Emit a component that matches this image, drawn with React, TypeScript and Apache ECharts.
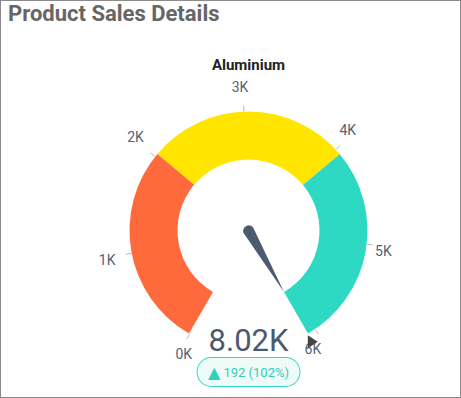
import React, { useEffect, useRef } from "react";
import * as echarts from "echarts";

const chartTitle = "Product Sales Details";
const gaugeName = "Aluminium";
const scaleMin = 0;
const scaleMax = 6000;
const bandStops = [2000, 4000, 6000];
const bandColors = ["#ff6a3d", "#ffe500", "#2ed9c3"];
const actualValue = 8020;
const targetValue = 7828;

const fmtK = (v: number) => `${+(v / 1000).toFixed(2)}K`;

export default function App() {
  const ref = useRef<HTMLDivElement>(null);
  useEffect(() => {
    if (!ref.current) return;
    const chart = echarts.init(ref.current, null, { renderer: "svg" });
    const center = [247.5, 229.5];
    const radius = 119;
    const common = {
      type: "gauge",
      center,
      radius,
      startAngle: 240,
      endAngle: -60,
      min: scaleMin,
      max: scaleMax,
      splitNumber: 6,
    };
    const hidden = {
      axisLine: { show: false, lineStyle: { width: 48 } },
      axisTick: { show: false },
      splitLine: { show: false, distance: -54, length: 6 },
      axisLabel: { show: false },
      pointer: { show: false },
      anchor: { show: false },
      title: { show: false },
      detail: { show: false },
    };
    const change = actualValue - targetValue;
    const pct = Math.round((actualValue / targetValue) * 100);
    const labelColor = "#566274";
    chart.setOption({
      animation: false,
      title: {
        text: chartTitle,
        left: 7,
        top: 1,
        padding: 0,
        textStyle: {
          fontFamily: "Roboto",
          fontSize: 22,
          fontWeight: "bold",
          color: "#666666",
        },
      },
      series: [
        {
          ...common,
          ...hidden,
          axisLine: {
            lineStyle: {
              width: 48,
              color: bandStops.map((s, i) => [
                (s - scaleMin) / (scaleMax - scaleMin),
                bandColors[i],
              ]),
            },
          },
          pointer: {
            show: true,
            icon: "path://M5 0 L10 71 A5 5 0 0 1 0 71 Z",
            width: 11,
            length: 76,
            offsetCenter: [0, 5],
            itemStyle: { color: "#4d5b70" },
          },
          title: {
            show: true,
            offsetCenter: [0, -165.5],
            fontFamily: "Roboto",
            fontSize: 15,
            fontWeight: "bold",
            color: "#222222",
          },
          detail: {
            show: true,
            offsetCenter: [0, 109.5],
            fontFamily: "Roboto",
            fontSize: 31,
            fontWeight: "normal",
            color: "#4b5a6e",
            formatter: (v: number) => fmtK(v),
          },
          data: [{ value: actualValue, name: gaugeName }],
        },
        {
          ...common,
          ...hidden,
          startAngle: 240.4,
          endAngle: -56,
          splitLine: {
            show: true,
            distance: -54,
            length: 6,
            lineStyle: { color: "#bbbbbb", width: 1 },
          },
          data: [{ value: scaleMin, name: "ticks" }],
        },
        {
          ...common,
          ...hidden,
          center: [243.5, 227.5],
          startAngle: 242.4,
          endAngle: -59,
          axisLabel: {
            show: true,
            distance: 18,
            color: labelColor,
            fontFamily: "Roboto",
            fontSize: 14,
            align: "center",
            verticalAlign: "middle",
            formatter: (val: any) => `${Math.round(Number(val) / 1000)}K`,
          },
          data: [{ value: scaleMin, name: "labels" }],
        },
        {
          ...common,
          ...hidden,
          pointer: {
            show: true,
            icon: "path://M0 0.63 L5.41 11.26 L11.91 0 Z",
            width: 11.91,
            length: 11.26,
            offsetCenter: [1.6, -120.4],
            itemStyle: { color: "#444444" },
          },
          detail: {
            show: true,
            offsetCenter: [0, 141.5],
            backgroundColor: "#effbf8",
            borderColor: "#2ed9c3",
            borderWidth: 1,
            borderRadius: 14,
            width: 76,
            height: 16,
            align: "center",
            padding: [6, 13, 6, 13],
            fontSize: 13,
            lineHeight: 16,
            fontWeight: "normal",
            fontFamily: "Roboto",
            color: "#2ecfb9",
            formatter: () => `{t|▲} {n|${change} (${pct}%)}`,
            rich: {
              t: {
                fontFamily: "DejaVu Sans",
                fontSize: 16,
                lineHeight: 16,
                color: "#2ed2bb",
              },
              n: {
                fontFamily: "Roboto",
                fontSize: 13,
                lineHeight: 16,
                fontWeight: "normal",
                color: "#2ecfb9",
              },
            },
          },
          data: [{ value: targetValue, name: "Target" }],
        },
      ],
    });
    return () => chart.dispose();
  }, []);
  return (
    <div
      style={{
        position: "absolute",
        left: 0,
        top: 0,
        width: 461,
        height: 398,
        boxSizing: "border-box",
        border: "1px solid #8a8a8a",
        background: "#fff",
      }}
    >
      <div ref={ref} style={{ width: 459, height: 396 }} />
    </div>
  );
}
